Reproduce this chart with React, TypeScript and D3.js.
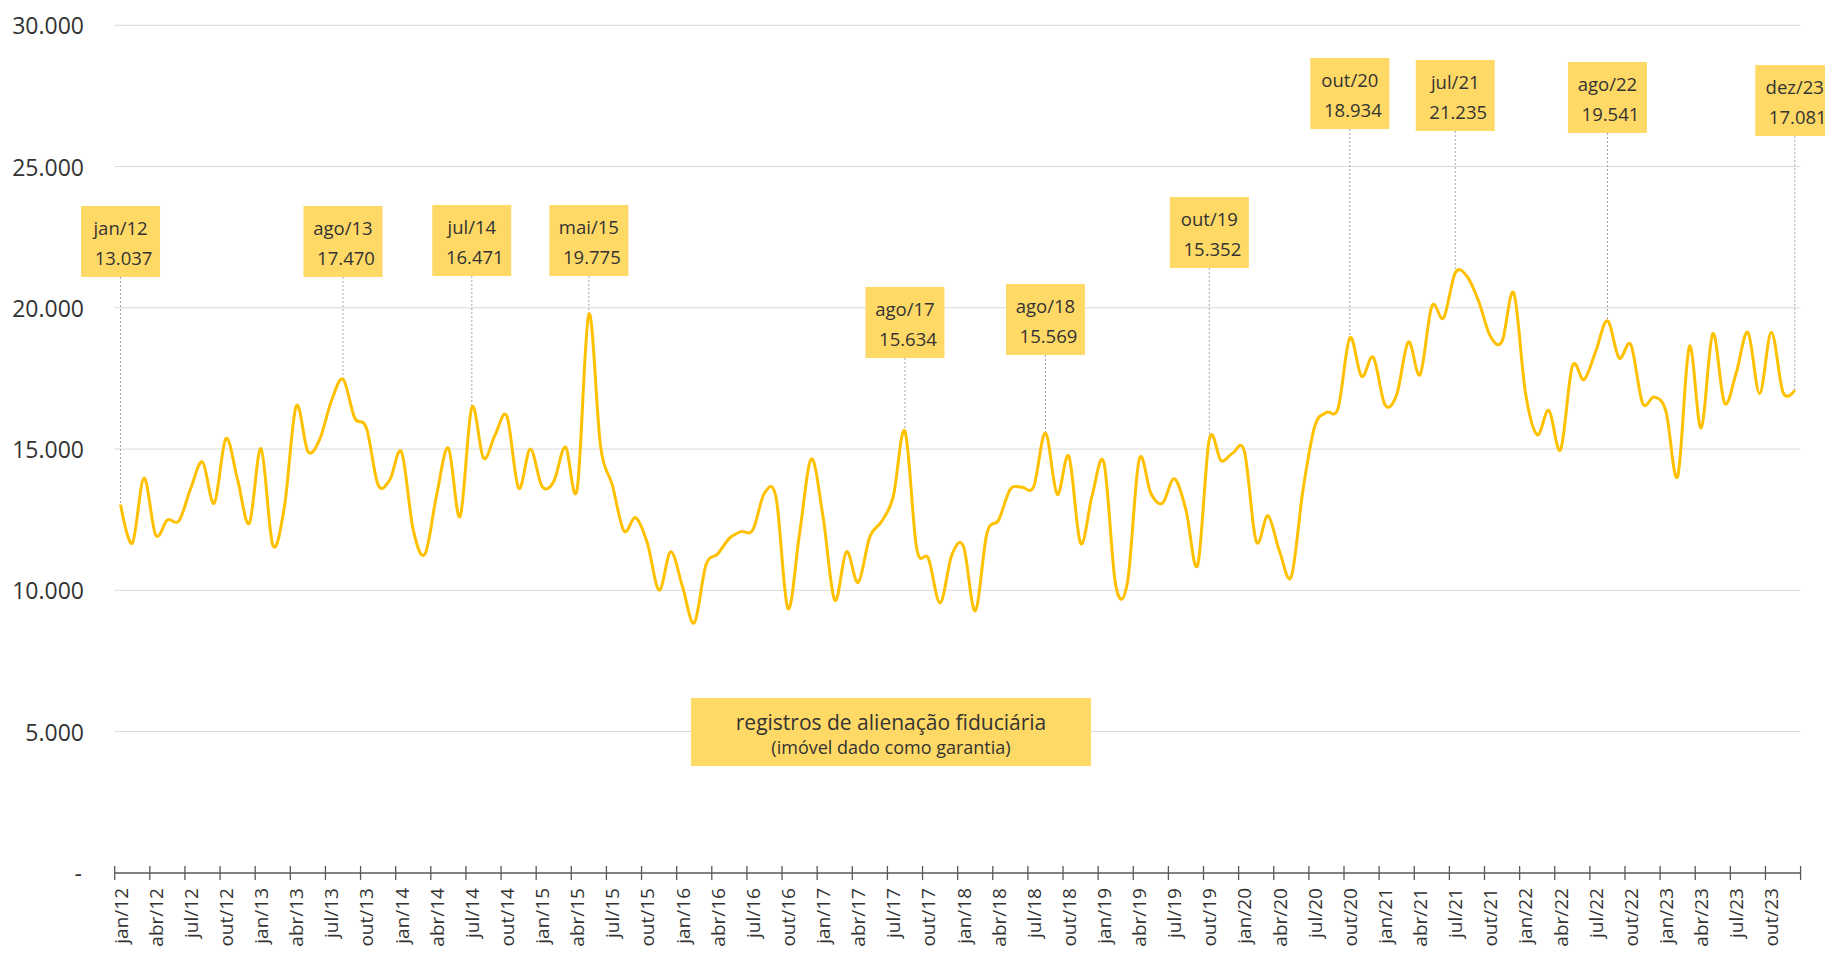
import React from 'react';
import * as d3 from 'd3';

// meses (rótulos do eixo)
const MONTHS = ['jan', 'fev', 'mar', 'abr', 'mai', 'jun', 'jul', 'ago', 'set', 'out', 'nov', 'dez'];
const YEARS = ['12', '13', '14', '15', '16', '17', '18', '19', '20', '21', '22', '23'];

// registros de alienação fiduciária por mês, jan/12 .. dez/23
const VALUES = [
  13037, 11663, 13970, 11959, 12491, 12467, 13615, 14538, 13083, 15367, 13911, 12373,
  15012, 11604, 12964, 16515, 14917, 15331, 16692, 17470, 16100, 15746, 13734, 13911,
  14893, 12136, 11284, 13379, 15036, 12609, 16471, 14680, 15509, 16160, 13615, 15000,
  13675, 13852, 15071, 13580, 19775, 15095, 13734, 12100, 12574, 11663, 10006, 11367,
  10124, 8846, 10893, 11284, 11840, 12077, 12136, 13438, 13260, 9355, 12018, 14645,
  12609, 9651, 11367, 10278, 11899, 12432, 13320, 15634, 11485, 11130, 9556, 11250,
  11550, 9272, 12018, 12491, 13580, 13651, 13675, 15569, 13402, 14740, 11663, 13379,
  14503, 10183, 10266, 14621, 13438, 13083, 13947, 12846, 10893, 15352, 14586, 14858,
  14900, 11730, 12639, 11375, 10490, 13560, 15803, 16299, 16452, 18934, 17574, 18247,
  16570, 16924, 18790, 17633, 20053, 19640, 21235, 21116, 20230, 18990, 18813, 20525,
  16983, 15508, 16370, 14976, 17928, 17456, 18459, 19541, 18223, 18695, 16629, 16842,
  16334, 14032, 18636, 15744, 19085, 16629, 17692, 19132, 16960, 19132, 17007, 17081,
];

const Y_TICKS = [0, 5000, 10000, 15000, 20000, 25000, 30000];

// meses destacados com caixa de valor
const CALLOUTS = [0, 19, 30, 40, 67, 79, 93, 105, 114, 127, 143];
// topo de cada caixa (px)
const CALLOUT_TOP = [206, 206, 205, 205, 287, 284, 197, 58, 60, 62, 65];

const LEGEND_LINES = ['registros de alienação fiduciária', '(imóvel dado como garantia)'];

const W = 1825;
const H = 953;
const FONT = '"Open Sans", "Noto Sans", sans-serif';
const TEXT = '#333333';
const LINE = '#FFC000';
const BOX = '#FFD966';

const labels = YEARS.flatMap((y) => MONTHS.map((m) => `${m}/${y}`));

const ptBR = d3.formatLocale({ decimal: ',', thousands: '.', grouping: [3], currency: ['R$', ''] });
const fmt = ptBR.format(',d');

export default function App() {
  const x = d3.scaleBand<string>().domain(labels).range([114.7, 1800.6]);
  const y = d3.scaleLinear().domain([0, 30000]).range([872.8, 25.3]);
  const cx = (i: number) => (x(labels[i]) as number) + x.bandwidth() / 2;

  const line = d3
    .line<number>()
    .x((_, i) => cx(i))
    .y((d) => y(d))
    .curve(d3.curveCardinal.tension(0));

  const boxW = 79;
  const boxH = 71;

  return (
    <div style={{ position: 'absolute', left: 0, top: 0 }}>
      <svg width={W} height={H} style={{ display: 'block', background: '#fff' }} fontFamily={FONT}>
        {/* grid */}
        {Y_TICKS.filter((t) => t > 0).map((t) => (
          <line key={t} x1={114.7} x2={1800.6} y1={y(t)} y2={y(t)} stroke="#d9d9d9" strokeWidth={1} />
        ))}
        {Y_TICKS.map((t) => (
          <text
            key={'yl' + t}
            x={t === 0 ? 82 : 84}
            y={y(t)}
            textAnchor="end"
            dominantBaseline="central"
            fontSize={23}
            fill={TEXT}
          >
            {t === 0 ? '-' : fmt(t)}
          </text>
        ))}

        {/* x axis */}
        <line x1={114.7} x2={1800.6} y1={873} y2={873} stroke="#595959" strokeWidth={1.3} />
        {labels.map((l, i) =>
          i % 3 === 0 ? (
            <line key={'tk' + l} x1={x(l)} x2={x(l)} y1={866} y2={880} stroke="#595959" strokeWidth={1.3} />
          ) : null
        )}
        <line x1={1800.6} x2={1800.6} y1={866} y2={880} stroke="#595959" strokeWidth={1.3} />
        {labels.map((l, i) =>
          i % 3 === 0 ? (
            <text
              key={'xl' + l}
              transform={`translate(${cx(i)},888) rotate(-90)`}
              textAnchor="end"
              dominantBaseline="central"
              fontSize={19}
              fill={TEXT}
            >
              {l}
            </text>
          ) : null
        )}

        {/* leader lines */}
        {CALLOUTS.map((i, k) => (
          <line
            key={'ld' + i}
            x1={cx(i)}
            x2={cx(i)}
            y1={CALLOUT_TOP[k] + boxH}
            y2={y(VALUES[i])}
            stroke="#a6a6a6"
            strokeWidth={1}
            strokeDasharray="2,2"
          />
        ))}

        {/* series */}
        <path d={line(VALUES) || ''} fill="none" stroke={LINE} strokeWidth={3} strokeLinejoin="round" />

        {/* callout boxes */}
        {CALLOUTS.map((i, k) => (
          <g key={'cb' + i} transform={`translate(${cx(i)},${CALLOUT_TOP[k]})`}>
            <rect x={-boxW / 2} y={0} width={boxW} height={boxH} fill={BOX} />
            <text x={0} y={21} textAnchor="middle" dominantBaseline="central" fontSize={18.5} fill={TEXT}>
              {labels[i]}
            </text>
            <text x={3} y={51} textAnchor="middle" dominantBaseline="central" fontSize={18.5} fill={TEXT}>
              {fmt(VALUES[i])}
            </text>
          </g>
        ))}

        {/* legend box */}
        <rect x={691} y={698} width={400} height={68} fill={BOX} />
        <text x={891} y={722} textAnchor="middle" dominantBaseline="central" fontSize={21} fill={TEXT}>
          {LEGEND_LINES[0]}
        </text>
        <text x={891} y={747} textAnchor="middle" dominantBaseline="central" fontSize={18} fill={TEXT}>
          {LEGEND_LINES[1]}
        </text>
      </svg>
    </div>
  );
}
